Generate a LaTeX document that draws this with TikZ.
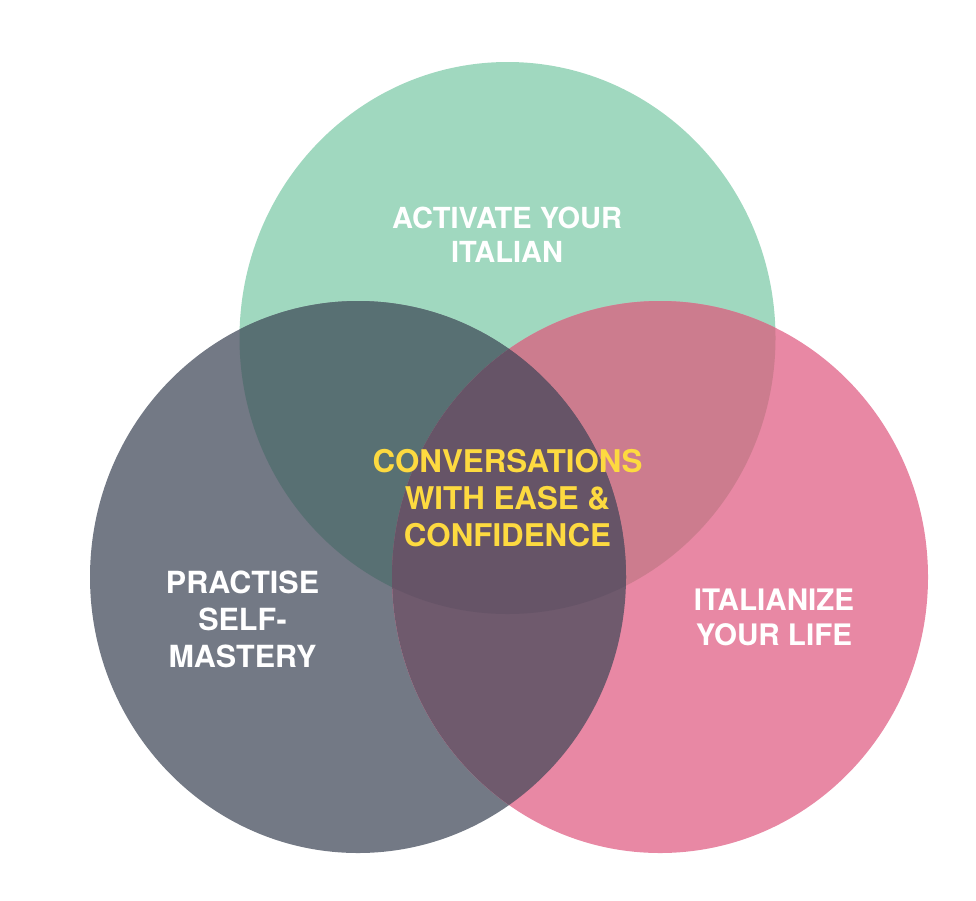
\documentclass[tikz,border=0pt]{standalone}
\usepackage{fontspec}
\setmainfont{TeX Gyre Heros}
\definecolor{cgreen}{HTML}{A0D8BF}
\definecolor{cgray}{HTML}{737985}
\definecolor{cpink}{HTML}{E888A4}
\definecolor{cgk}{HTML}{587073}
\definecolor{cgp}{HTML}{CC7C8E}
\definecolor{ckp}{HTML}{6F5A6D}
\definecolor{call}{HTML}{665467}
\definecolor{cyel}{HTML}{FDDA40}
\tikzset{
  lbl/.style={font=\fontsize{29}{35}\selectfont\bfseries, align=center, inner sep=0pt, anchor=center},
}
\begin{document}
\begin{tikzpicture}[x=1pt,y=-1pt]
\useasboundingbox (0,0) rectangle (976,900);
\def\G{(507.5,338) ellipse [x radius=268pt, y radius=276pt]}
\def\K{(358,577) ellipse [x radius=268pt, y radius=276pt]}
\def\P{(660,577) ellipse [x radius=268pt, y radius=276pt]}
\fill[cgreen] \G;
\fill[cgray] \K;
\fill[cpink] \P;
\begin{scope}
  \clip \G;
  \fill[cgk] \K;
  \fill[cgp] \P;
\end{scope}
\begin{scope}
  \clip \K;
  \fill[ckp] \P;
\end{scope}
\begin{scope}
  \clip \G;
  \clip \K;
  \fill[call] \P;
\end{scope}
\node[lbl, white, font=\fontsize{29}{34}\selectfont\bfseries] (act) at (507,234.5) {ACTIVATE YOUR\\ITALIAN};
\node[lbl, cyel, font=\fontsize{31.3}{37}\selectfont\bfseries] (conv) at (507.5,498.5) {CONVERSATIONS\\WITH EASE \&\\CONFIDENCE};
\node[lbl, white, font=\fontsize{30.5}{37}\selectfont\bfseries] (prac) at (242.5,619) {PRACTISE\\SELF-\\MASTERY};
\node[lbl, white, font=\fontsize{29.6}{35}\selectfont\bfseries] (ital) at (774,617) {ITALIANIZE\\YOUR LIFE};
\end{tikzpicture}
\end{document}
